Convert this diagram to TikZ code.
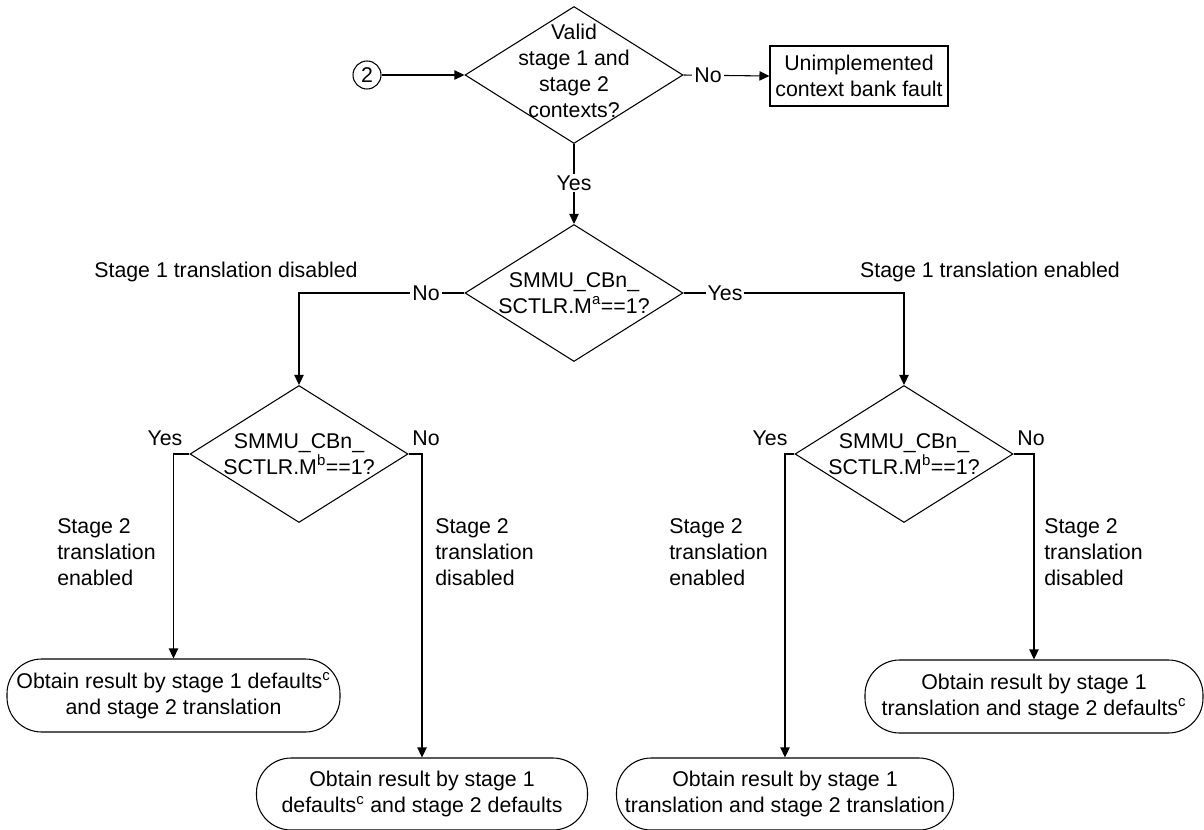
\documentclass[tikz,border=0pt]{standalone}
\usepackage{fontspec}
\setmainfont{Liberation Sans}
\usetikzlibrary{shapes.geometric,arrows.meta}
\begin{document}
\begin{tikzpicture}[x=0.75pt,y=-0.75pt,
  every node/.style={font=\fontsize{16}{19.5}\selectfont},
  line/.style={draw=black,line width=0.8pt},
  arr/.style={line,-{Triangle[length=7.5pt,width=7pt]}},
  dia/.style={draw,line width=0.8pt,shape=diamond,minimum width=163.5pt,minimum height=102.75pt,inner sep=0pt},
  res/.style={draw,line width=0.8pt,rounded corners=26pt,minimum height=54.75pt,align=center,inner sep=0pt},
  rbox/.style={draw,line width=0.8pt,minimum width=133.5pt,minimum height=45pt,align=center,inner sep=0pt},
  circ/.style={draw,line width=0.8pt,circle,minimum size=21pt,inner sep=0pt},
  lbl/.style={fill=white,inner sep=1.5pt},
  side/.style={anchor=west,align=left,inner sep=0pt}
]
\useasboundingbox (0,0) rectangle (1204,829);
% shapes
\node[circ] (c2) at (367,75) {2};
\node[dia] (d1) at (574,75) {};
\node[rbox] (fault) at (859,76) {Unimplemented\\context bank fault};
\node[dia] (d2) at (574,293) {};
\node[dia] (d3) at (299,454) {};
\node[dia] (d4) at (904,454) {};
\node[res,minimum width=249.75pt] (rA) at (173.5,695.5) {Obtain result by stage 1 defaults\textsuperscript{c}\\and stage 2 translation};
\node[res,minimum width=248.25pt,minimum height=54pt] (rB) at (422,794) {Obtain result by stage 1\\defaults\textsuperscript{c} and stage 2 defaults};
\node[res,minimum width=252.75pt,minimum height=54pt] (rC) at (785,794) {Obtain result by stage 1\\translation and stage 2 translation};
\node[res,minimum width=253.5pt] (rD) at (1034,696.5) {Obtain result by stage 1\\translation and stage 2 defaults\textsuperscript{c}};
% texts in diamonds
\node[align=center,inner sep=0pt] (t1) at (574,71) {Valid\\stage 1 and\\stage 2\\contexts?};
\node[align=center,inner sep=0pt] (t2) at (574,293) {SMMU\_CBn\_\\SCTLR.M\textsuperscript{a}==1?};
\node[align=center,inner sep=0pt] (t3) at (299,454) {SMMU\_CBn\_\\SCTLR.M\textsuperscript{b}==1?};
\node[align=center,inner sep=0pt] (t4) at (904,454) {SMMU\_CBn\_\\SCTLR.M\textsuperscript{b}==1?};
% connectors
\draw[arr] (c2) -- (d1.west);
\draw[arr] (d1.east) -- (fault.west);
\draw[arr] (d1.south) -- (d2.north);
\draw[arr] (d2.west) -| (d3.north);
\draw[arr] (d2.east) -| (d4.north);
\draw[arr] (d3.west) -| (rA.north);
\draw[arr] (d3.east) -| (rB.north);
\draw[arr] (d4.west) -| (rC.north);
\draw[arr] (d4.east) -| (rD.north);
% labels
\node[lbl] (no1) at (708,75) {No};
\node[lbl] (yes1) at (574,183) {Yes};
\node[lbl] (no2) at (426,293) {No};
\node[lbl] (yes2) at (725,293) {Yes};
\node (s1d) at (226,272) {Stage 1 translation disabled};
\node (s1e) at (990,272) {Stage 1 translation enabled};
\node (yes3) at (165,438) {Yes};
\node (no3) at (426,438) {No};
\node (yes4) at (770,438) {Yes};
\node (no4) at (1031,438) {No};
\node[side] (s2a) at (57,552) {Stage 2\\translation\\enabled};
\node[side] (s2b) at (435,552) {Stage 2\\translation\\disabled};
\node[side] (s2c) at (669,552) {Stage 2\\translation\\enabled};
\node[side] (s2d) at (1044,552) {Stage 2\\translation\\disabled};
\end{tikzpicture}
\end{document}
